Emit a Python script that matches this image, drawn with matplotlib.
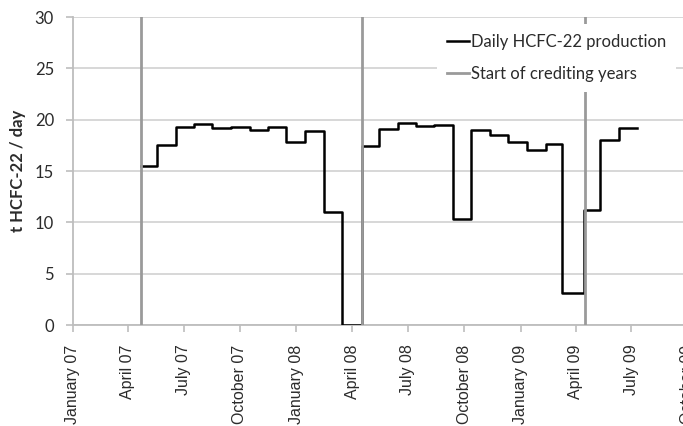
import matplotlib
matplotlib.use("Agg")
import matplotlib.pyplot as plt
import matplotlib.dates as mdates
import numpy as np

# step edges (dates) and monthly average production, t HCFC-22 / day
edges = ["2007-04-23", "2007-05-18", "2007-06-18", "2007-07-18", "2007-08-17",
         "2007-09-16", "2007-10-17", "2007-11-16", "2007-12-16", "2008-01-15",
         "2008-02-15", "2008-03-15", "2008-04-18", "2008-05-15", "2008-06-15",
         "2008-07-14", "2008-08-13", "2008-09-13", "2008-10-13", "2008-11-13",
         "2008-12-12", "2009-01-12", "2009-02-11", "2009-03-10", "2009-04-14",
         "2009-05-10", "2009-06-10", "2009-07-10"]
production = [15.5, 17.5, 19.3, 19.55, 19.15, 19.3, 19.0, 19.3, 17.8, 18.85, 11.0, 0.0,
              17.4, 19.1, 19.7, 19.35, 19.5, 10.3, 18.95, 18.5, 17.85, 17.0, 17.6, 3.1,
              11.2, 18.0, 19.2]
crediting_starts = ["2007-04-23", "2008-04-18", "2009-04-16"]

edges = np.array(edges, dtype="datetime64[D]")
crediting_starts = np.array(crediting_starts, dtype="datetime64[D]")

fig = plt.figure(figsize=(6.83, 4.26), dpi=100)
# axis runs on past the right edge of the picture, as in the original
ax = fig.add_axes([72.7 / 683, 101 / 426, 671.4 / 683, 308 / 426])

txt = "#2b2b2b"
grid = "#d4d4d4"

ax.step(mdates.date2num(edges), production + [production[-1]], where="post",
        color="black", lw=1.8, zorder=3, label="Daily HCFC-22 production")
for i, d in enumerate(crediting_starts):
    ax.axvline(mdates.date2num(d), color="#9a9a9a", lw=2, zorder=3.5,
               label="Start of crediting years" if i == 0 else None)

ax.set_ylim(0, 30)
ax.set_yticks(range(0, 31, 5))
ax.set_xlim(mdates.date2num(np.datetime64("2007-01-01")),
            mdates.date2num(np.datetime64("2010-01-01")))
ax.xaxis.set_major_locator(mdates.MonthLocator(bymonth=[1, 4, 7, 10]))
ax.xaxis.set_major_formatter(mdates.DateFormatter("%B %y"))

ax.yaxis.grid(True, color=grid, lw=1.3)
ax.set_axisbelow(True)
for s in ["top", "right"]:
    ax.spines[s].set_visible(False)
for s in ["left", "bottom"]:
    ax.spines[s].set_color("#bdbdbd")
    ax.spines[s].set_linewidth(1.3)

ax.tick_params(axis="y", length=5, width=1.2, color="#bdbdbd", pad=8.5,
               labelsize=12, labelcolor=txt)
ax.tick_params(axis="x", length=5, width=1.2, color="#bdbdbd", pad=9,
               labelsize=11.5, labelcolor=txt)
for lab in ax.get_yticklabels():
    lab.set_family("Lato")
for lab in ax.get_xticklabels():
    lab.set_family("Liberation Sans")
    lab.set_rotation(90)
    lab.set_ha("center")

ax.set_ylabel("t HCFC-22 / day", family="Lato", fontweight="bold", fontsize=12,
              color=txt, labelpad=6)

leg = ax.legend(loc="upper left", bbox_to_anchor=(437 / 683, 1 - 24 / 426),
                bbox_transform=fig.transFigure, borderaxespad=0,
                prop={"family": "Lato", "size": 12}, labelcolor=txt,
                handlelength=1.3, handletextpad=0.15, labelspacing=0.95,
                borderpad=0.6, fancybox=False, framealpha=1,
                facecolor="white", edgecolor="none")
leg.set_zorder(5)

fig.savefig("out.png", dpi=100)
